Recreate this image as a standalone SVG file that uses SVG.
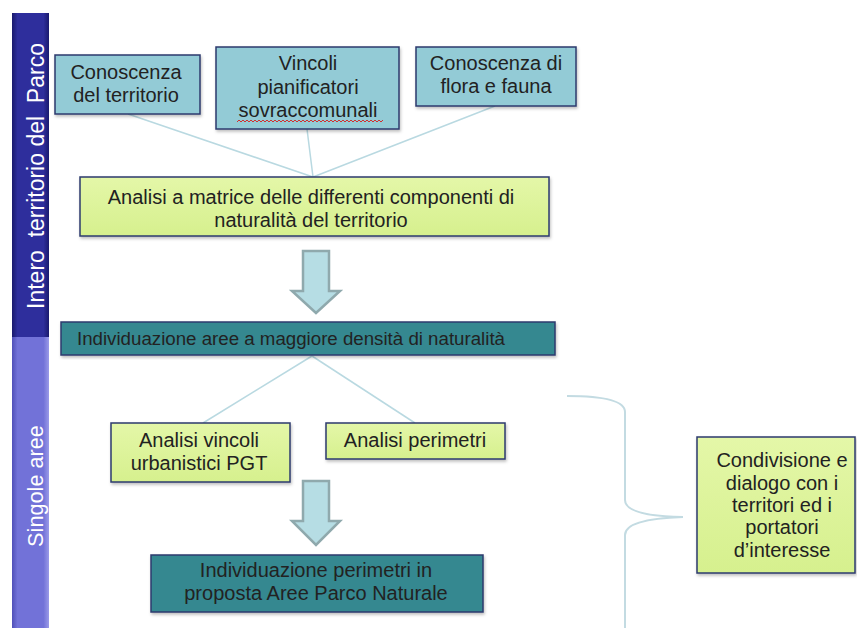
<svg xmlns="http://www.w3.org/2000/svg" width="857" height="628" viewBox="0 0 857 628">
<defs>
<style>
.t{font-family:"Liberation Sans",Arial,sans-serif;font-size:20px;fill:#222222;text-anchor:middle}
.t.small{font-size:18.7px}
.side{font-family:"Liberation Sans",Arial,sans-serif;fill:#ffffff;text-anchor:middle}
.blue{fill:#93cbd6;stroke:#2c3a6e;stroke-width:1.5}
.green{fill:url(#gg);stroke:#2c3a6e;stroke-width:1.5}
.teal{fill:#358890;stroke:#2c3a6e;stroke-width:1.5}
.con{stroke:#b9d9e1;stroke-width:1.5;fill:none}
.arrow{fill:#b6dde4;stroke:#8fa9ad;stroke-width:2.5}
</style>
<linearGradient id="gg" x1="0" y1="0" x2="0" y2="1">
<stop offset="0" stop-color="#e4f7a8"/>
<stop offset="1" stop-color="#d6f08e"/>
</linearGradient>
<linearGradient id="bar1" x1="0" y1="0" x2="1" y2="0">
<stop offset="0" stop-color="#1a1a6e"/>
<stop offset="0.15" stop-color="#2e2e9c"/>
<stop offset="0.85" stop-color="#2e2e9c"/>
<stop offset="1" stop-color="#1a1a6e"/>
</linearGradient>
<linearGradient id="bar2" x1="0" y1="0" x2="1" y2="0">
<stop offset="0" stop-color="#5050b8"/>
<stop offset="0.15" stop-color="#7272d8"/>
<stop offset="0.85" stop-color="#7272d8"/>
<stop offset="1" stop-color="#9a9ae8"/>
</linearGradient>
<filter id="sh" x="-5%" y="-5%" width="110%" height="120%">
<feDropShadow dx="1" dy="2" stdDeviation="1.5" flood-color="#000" flood-opacity="0.25"/>
</filter>
</defs>

<g id="side-bars">
<rect x="12" y="13" width="37" height="324" fill="url(#bar1)"/>
<rect x="12" y="337" width="37" height="291" fill="url(#bar2)"/>
<text class="side" font-size="23" xml:space="preserve" transform="translate(44,176) rotate(-90)">Intero  territorio del  Parco</text>
<text class="side" font-size="21.7" transform="translate(43,486) rotate(-90)">Singole aree</text>
</g>

<g id="connectors">
<line class="con" x1="128" y1="114" x2="313" y2="177"/>
<line class="con" x1="307" y1="129" x2="313" y2="177"/>
<line class="con" x1="495" y1="106" x2="313" y2="177"/>
<line class="con" x1="312" y1="356" x2="203" y2="423"/>
<line class="con" x1="312" y1="356" x2="415" y2="423"/>
<path class="arrow" d="M303,251 H329 V291 H340 L316,313 L292,291 H303 Z"/>
<path class="arrow" d="M303,481 H329 V521 H340 L316,545 L292,521 H303 Z"/>
<path d="M567,396 Q625,396 625,412 V500 Q625,516 683,517 Q625,519 625,535 V628" fill="none" stroke="#c3dbe2" stroke-width="2"/>
</g>

<g id="n-conoscenza-territorio">
<rect class="blue" x="55" y="55" width="145" height="59" filter="url(#sh)"/>
<text class="t" x="126" y="79">Conoscenza</text>
<text class="t" x="126" y="102">del territorio</text>
</g>

<g id="n-vincoli">
<rect class="blue" x="216" y="47" width="183" height="82" filter="url(#sh)"/>
<text class="t" x="308" y="70">Vincoli</text>
<text class="t" x="308" y="94">pianificatori</text>
<text class="t" x="308" y="117">sovraccomunali</text>
<path d="M237,122 l2,-2 l2,2 l2,-2 l2,2 l2,-2 l2,2 l2,-2 l2,2 l2,-2 l2,2 l2,-2 l2,2 l2,-2 l2,2 l2,-2 l2,2 l2,-2 l2,2 l2,-2 l2,2 l2,-2 l2,2 l2,-2 l2,2 l2,-2 l2,2 l2,-2 l2,2 l2,-2 l2,2 l2,-2 l2,2 l2,-2 l2,2 l2,-2 l2,2 l2,-2 l2,2 l2,-2 l2,2 l2,-2 l2,2 l2,-2 l2,2 l2,-2 l2,2 l2,-2 l2,2 l2,-2 l2,2 l2,-2 l2,2 l2,-2 l2,2 l2,-2 l2,2 l2,-2 l2,2 l2,-2 l2,2 l2,-2 l2,2 l2,-2 l2,2 l2,-2 l2,2 l2,-2 l2,2 l2,-2 l2,2 l2,-2 l2,2 l2,-2" fill="none" stroke="#d03030" stroke-width="1"/>
</g>

<g id="n-flora-fauna">
<rect class="blue" x="416" y="47" width="160" height="59" filter="url(#sh)"/>
<text class="t" x="496" y="70">Conoscenza di</text>
<text class="t" x="496" y="93">flora e fauna</text>
</g>

<g id="n-analisi-matrice">
<rect class="green" x="80" y="177" width="469" height="59" filter="url(#sh)"/>
<text class="t" x="311" y="204">Analisi a matrice delle differenti componenti di</text>
<text class="t" x="311" y="227">naturalità del territorio</text>
</g>

<g id="n-individuazione-aree">
<rect class="teal" x="61" y="322" width="494" height="33" filter="url(#sh)"/>
<text class="t small" x="291" y="345">Individuazione aree a maggiore densità di naturalità</text>
</g>

<g id="n-analisi-vincoli">
<rect class="green" x="111" y="423" width="179" height="59" filter="url(#sh)"/>
<text class="t" x="199" y="447">Analisi vincoli</text>
<text class="t" x="199" y="470">urbanistici PGT</text>
</g>

<g id="n-analisi-perimetri">
<rect class="green" x="326" y="423" width="179" height="36" filter="url(#sh)"/>
<text class="t" x="415" y="447">Analisi perimetri</text>
</g>

<g id="n-individuazione-perimetri">
<rect class="teal" x="151" y="555" width="332" height="57" filter="url(#sh)"/>
<text class="t" x="316" y="577">Individuazione perimetri in</text>
<text class="t" x="316" y="600">proposta Aree Parco Naturale</text>
</g>

<g id="n-condivisione">
<rect class="green" x="697" y="437" width="158" height="136" filter="url(#sh)"/>
<text class="t" x="782" y="467">Condivisione e</text>
<text class="t" x="782" y="490">dialogo con i</text>
<text class="t" x="782" y="512">territori ed i</text>
<text class="t" x="782" y="534">portatori</text>
<text class="t" x="782" y="557">d’interesse</text>
</g>
</svg>
